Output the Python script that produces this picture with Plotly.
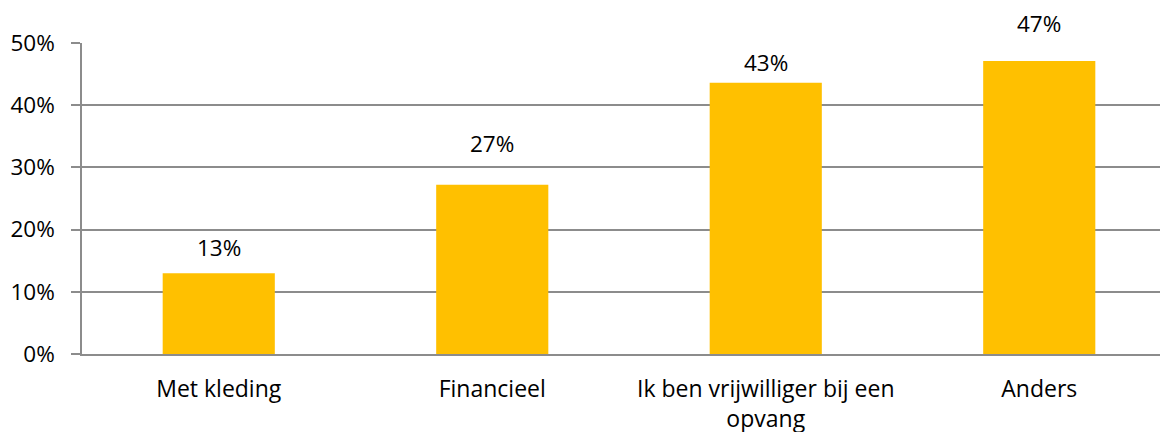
import plotly.graph_objects as go

categories = ["Met kleding", "Financieel", "Ik ben vrijwilliger bij een<br>opvang", "Anders"]
values = [13.0, 27.2, 43.6, 47.1]
labels = ["13%", "27%", "43%", "47%"]
label_shift = [26, 41, 20, 38]
tick_vals = [0, 10, 20, 30, 40, 50]
tick_text = ["0%", "10%", "20%", "30%", "40%", "50%"]

FONT = "Open Sans"
fig = go.Figure()
fig.add_trace(go.Bar(x=categories, y=values, marker=dict(color="#FFC000", line=dict(width=0)),
                     hoverinfo="skip"))
for c, v, t, s in zip(categories, values, labels, label_shift):
    fig.add_annotation(x=c, y=v, text=t, showarrow=False, yshift=s, yanchor="middle",
                       font=dict(family=FONT, size=22.5, color="#000000"))

fig.update_layout(
    width=1168, height=432,
    margin=dict(l=74, r=0, t=35, b=86),
    plot_bgcolor="white", paper_bgcolor="white",
    bargap=0.59, showlegend=False,
    font=dict(family=FONT, size=22, color="#000000"),
)
fig.update_xaxes(showgrid=False, showline=True, linecolor="#8c8c8c", linewidth=1.5,
                 ticks="", tickfont=dict(family=FONT, size=23), ticklabelstandoff=14)
fig.update_yaxes(range=[0, 50], tickvals=tick_vals, ticktext=tick_text,
                 showgrid=True, gridcolor="#8c8c8c", gridwidth=1.5,
                 showline=True, linecolor="#8c8c8c", linewidth=1.5,
                 ticks="outside", ticklen=9, tickcolor="#8c8c8c", tickwidth=1.5,
                 ticklabelstandoff=12, zeroline=False,
                 tickfont=dict(family=FONT, size=22.5))
fig.write_html("out.html")
